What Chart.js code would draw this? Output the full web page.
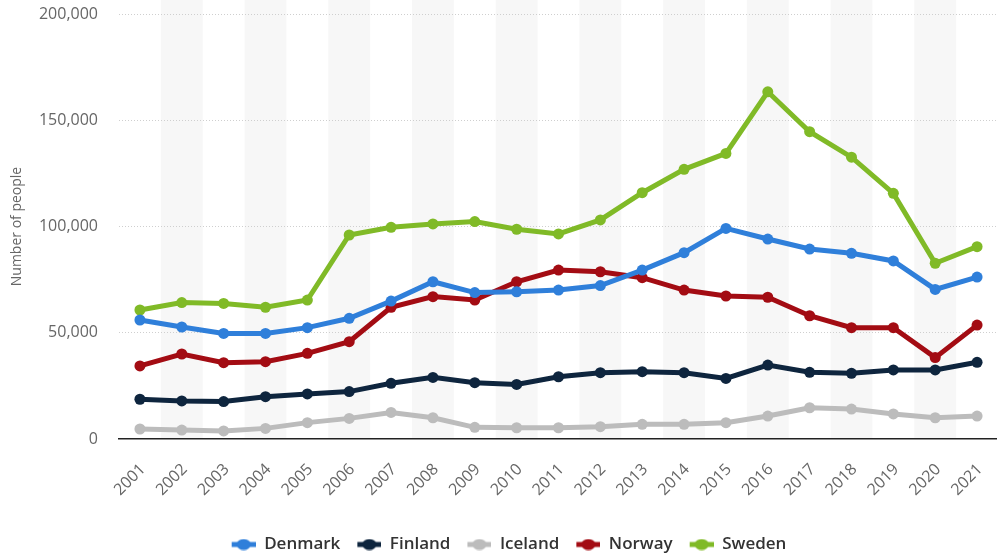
<!DOCTYPE html>
<html>
<head>
<meta charset="utf-8">
<script src="https://cdn.jsdelivr.net/npm/chart.js@4.4.0/dist/chart.umd.min.js"></script>
<style>
html,body{margin:0;padding:0;background:#fff;overflow:hidden;}
#c{display:block;}
</style>
</head>
<body>
<canvas id="c" width="997" height="554"></canvas>
<script>
const years = ['2001','2002','2003','2004','2005','2006','2007','2008','2009','2010','2011','2012','2013','2014','2015','2016','2017','2018','2019','2020','2021'];
const denmark = [56000,52700,49700,49700,52400,56800,64900,74000,68900,69300,70100,72200,79500,87700,99100,94100,89400,87400,83800,70400,76200];
const finland = [18700,17900,17600,19900,21200,22300,26200,29000,26500,25700,29300,31200,31700,31200,28500,34800,31400,30900,32500,32500,36100];
const iceland = [4700,4200,3800,5000,7700,9700,12500,10000,5500,5300,5300,5800,6900,6900,7700,10800,14700,14100,11800,10000,10800];
const norway = [34400,40000,35900,36400,40300,45800,62000,67000,65400,74000,79500,78700,75900,70100,67300,66700,58000,52400,52400,38300,53600];
const sweden = [60700,64200,63800,62000,65400,96000,99600,101200,102300,98700,96500,103100,115900,126900,134400,163400,144600,132600,115600,82700,90500];
const yTicks = [0,50000,100000,150000,200000];

const colors = {Denmark:'#2f7fda', Finland:'#0e253e', Iceland:'#bcbcbc', Norway:'#a30c13', Sweden:'#80ba27'};

function legendIcon(color){
  const c = document.createElement('canvas');
  c.width = 38; c.height = 12;
  const g = c.getContext('2d');
  g.strokeStyle = color; g.lineWidth = 5;
  g.beginPath(); g.moveTo(14, 6); g.lineTo(38, 6); g.stroke();
  g.fillStyle = color;
  g.beginPath(); g.ellipse(26, 6, 7, 5.5, 0, 0, Math.PI*2); g.fill();
  return c;
}

function ds(label, data){
  return {
    label, data,
    borderColor: colors[label], backgroundColor: colors[label],
    borderWidth: 5, pointRadius: 5.5, pointHoverRadius: 6, pointBorderWidth: 0,
    tension: 0, pointStyle: 'circle'
  };
}

// plot area in the source runs a few pixels past the right edge of the picture
const extend = {
  id: 'extend',
  afterLayout(chart){
    const x = chart.scales.x, extra = 7;
    x.right += extra; x.width += extra;
    x.configure();
    chart.chartArea.right += extra; chart.chartArea.width += extra;
    if (chart.legend){ chart.legend.left += 3.5; chart.legend.right += 3.5; }
  }
};

const bands = {
  id: 'bands',
  beforeDraw(chart){
    const x = chart.scales.x, area = chart.chartArea, ctx = chart.ctx;
    const half = (x.getPixelForValue(1) - x.getPixelForValue(0)) / 2;
    ctx.save();
    ctx.fillStyle = '#f7f7f7';
    for (let i = 1; i < years.length; i += 2){
      const cx = x.getPixelForValue(i);
      ctx.fillRect(cx - half, 0, half*2, area.bottom);
    }
    ctx.restore();
  }
};

const fam = "'Open Sans', 'DejaVu Sans', sans-serif";

new Chart(document.getElementById('c'), {
  type: 'line',
  data: {
    labels: years,
    datasets: [ds('Denmark', denmark), ds('Finland', finland), ds('Iceland', iceland), ds('Norway', norway), ds('Sweden', sweden)]
  },
  options: {
    responsive: false, maintainAspectRatio: false, animation: false, devicePixelRatio: 1,
    layout: {padding: {top: 14, left: 0, right: 0, bottom: -9}},
    plugins: {
      tooltip: {enabled: false},
      legend: {
        position: 'bottom',
        labels: {
          usePointStyle: true, pointStyleWidth: 38, padding: 3,
          color: '#333', font: {family: fam, size: 17, weight: '600'},
          generateLabels(chart){
            return chart.data.datasets.map((d, i) => ({
              text: d.label, pointStyle: legendIcon(d.borderColor),
              fillStyle: d.borderColor, strokeStyle: d.borderColor, lineWidth: 0,
              hidden: false, datasetIndex: i, fontColor: '#333'
            }));
          }
        }
      }
    },
    scales: {
      x: {
        offset: true,
        grid: {display: false, drawTicks: true, tickLength: 21},
        border: {display: true, color: '#222', width: 1.5},
        ticks: {color: '#666', font: {family: fam, size: 16}, minRotation: 45, maxRotation: 45, padding: 0, labelOffset: 3, autoSkip: false},
        afterFit(s){ s.height = 94; }
      },
      y: {
        min: 0, max: 200000,
        afterBuildTicks(s){ s.ticks = yTicks.map(v => ({value: v})); },
        grid: {
          color: ctx => ctx.tick && ctx.tick.value === 0 ? 'rgba(0,0,0,0)' : '#cfcfcf',
          lineWidth: 1, drawTicks: true, tickLength: 21, tickColor: 'rgba(0,0,0,0)'
        },
        border: {display: false, dash: [1, 2]},
        ticks: {
          color: '#666', font: {family: fam, size: 16}, padding: 0,
          callback: v => v.toLocaleString('en-US')
        },
        title: {display: true, text: 'Number of people', color: '#666', font: {family: fam, size: 14}, padding: {top: 9, bottom: 0}},
        afterFit(s){ s.width = 119; }
      }
    }
  },
  plugins: [bands, extend]
});
</script>
</body>
</html>
